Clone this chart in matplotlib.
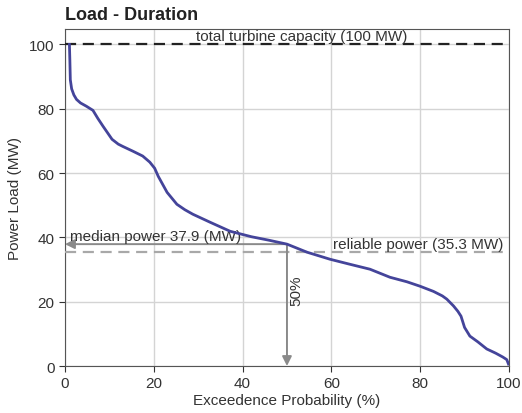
import matplotlib
matplotlib.use('Agg')
import matplotlib.pyplot as plt

plt.rcParams['font.family'] = ['Liberation Sans', 'DejaVu Sans']

# load-duration curve
exceedance = [1.0, 1.1, 1.2, 1.5, 2.0, 2.6, 3.5, 4.8, 6.3, 7.4, 8.6, 10.6, 12.0, 13.0,
              15.3, 17.5, 19.1, 20.2, 21.0, 23.0, 25.2, 27.0, 28.8, 32.7, 37.2,
              42.0, 46.0, 50.0, 54.5, 59.7, 64.0, 68.7, 73.2, 77.0, 80.0, 83.0,
              85.0, 86.0, 87.5, 88.5, 89.2, 90.0, 91.2, 93.0, 95.0, 97.0,
              98.6, 99.5, 99.9]
power = [100.0, 95.0, 89.0, 86.2, 84.3, 82.9, 81.8, 80.8, 79.5, 77.0, 74.5, 70.5, 69.0, 68.3,
         66.8, 65.3, 63.4, 61.5, 59.0, 54.0, 50.3, 48.6, 47.2, 44.7, 41.9,
         40.2, 39.1, 37.9, 35.4, 33.2, 31.7, 30.1, 27.6, 26.2, 24.8, 23.2,
         21.8, 20.8, 18.7, 17.0, 15.5, 12.0, 9.3, 7.5, 5.3, 4.0,
         2.8, 2.0, 0.6]

capacity = 100.0
median_power = 37.9
median_prob = 50
reliable_power = 35.3

fig = plt.figure(figsize=(5.22, 4.14), dpi=100)
ax = fig.add_axes([0.1245, 0.1135, 0.8505, 0.814])

ax.plot(exceedance, power, color='#44449a', lw=2, zorder=4)

# capacity line
ax.axhline(capacity, color='#222222', lw=1.6, ls=(0, (5, 3)), zorder=3)
ax.text(53.3, capacity + 0.5, 'total turbine capacity (100 MW)', ha='center', va='bottom',
        fontsize=11, color='#333333')

# reliable power
ax.axhline(reliable_power, color='#a8a8a8', lw=1.6, ls=(0, (5, 3)), zorder=3)
ax.text(98.8, reliable_power + 0.6, 'reliable power (35.3 MW)', ha='right', va='bottom',
        fontsize=11, color='#333333')

# median power arrows
arrow_kw = dict(arrowstyle='-|>', color='#8a8a8a', lw=1.4, mutation_scale=14, shrinkA=0, shrinkB=0)
ax.annotate('', xy=(0, median_power), xytext=(median_prob, median_power), arrowprops=arrow_kw, zorder=3)
ax.annotate('', xy=(median_prob, 0), xytext=(median_prob, median_power), arrowprops=arrow_kw, zorder=3)
ax.text(1.2, median_power + 0.5, 'median power 37.9 (MW)', ha='left', va='bottom',
        fontsize=11, color='#333333')
ax.text(median_prob + 0.6, 23.6, '50%', rotation=90, ha='left', va='center',
        fontsize=11, color='#333333')

ax.set_xlim(0, 100)
ax.set_ylim(0, 104.8)
ax.set_xticks([0, 20, 40, 60, 80, 100])
ax.set_yticks([0, 20, 40, 60, 80, 100])
ax.grid(color='#d4d4d4', lw=1)
ax.set_axisbelow(True)
for s in ax.spines.values():
    s.set_color('#555555')
ax.tick_params(colors='#333333', labelsize=11, length=4, direction='out')

ax.set_xlabel('Exceedence Probability (%)', fontsize=11, color='#333333', labelpad=2)
ax.set_ylabel('Power Load (MW)', fontsize=11, color='#333333', labelpad=5)
fig.text(0.125, 0.941, 'Load - Duration', fontsize=13, fontweight='bold', color='#222222',
         ha='left', va='bottom')

fig.savefig('out.png', dpi=100)
